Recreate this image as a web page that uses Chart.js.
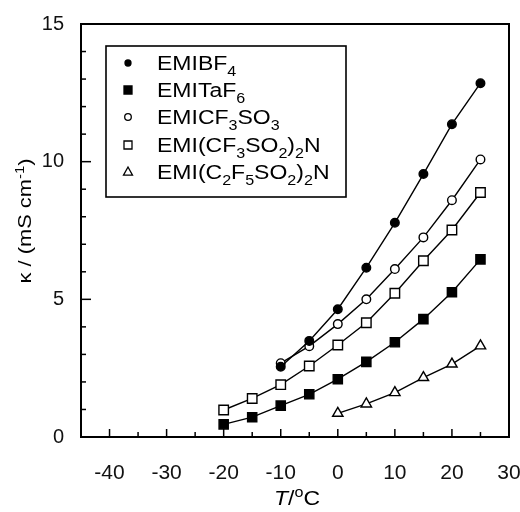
<!DOCTYPE html>
<html>
<head>
<meta charset="utf-8">
<script src="https://cdn.jsdelivr.net/npm/chart.js@4/dist/chart.umd.min.js"></script>
<style>
  html, body { margin: 0; padding: 0; background: #fff; }
  #c { display: block; }
</style>
</head>
<body>
<canvas id="c" width="520" height="512"></canvas>
<script>
// ---- data ----
const tempsBF4 = [-10, -5, 0, 5, 10, 15, 20, 25];
const valsBF4 = [2.55, 3.49, 4.64, 6.15, 7.78, 9.55, 11.36, 12.85];

const tempsTaF6 = [-20, -15, -10, -5, 0, 5, 10, 15, 20, 25];
const valsTaF6 = [0.46, 0.72, 1.14, 1.55, 2.10, 2.73, 3.44, 4.28, 5.26, 6.45];

const tempsCF3SO3 = [-10, -5, 0, 5, 10, 15, 20, 25];
const valsCF3SO3 = [2.68, 3.30, 4.10, 5.00, 6.10, 7.25, 8.60, 10.08];

const tempsTFSI = [-20, -15, -10, -5, 0, 5, 10, 15, 20, 25];
const valsTFSI = [0.98, 1.40, 1.90, 2.58, 3.34, 4.15, 5.22, 6.40, 7.52, 8.88];

const tempsBETI = [0, 5, 10, 15, 20, 25];
const valsBETI = [0.86, 1.20, 1.61, 2.16, 2.65, 3.31];

// legend labels; {n} marks a subscript
const seriesLabels = [
  'EMIBF{4}',
  'EMITaF{6}',
  'EMICF{3}SO{3}',
  'EMI(CF{3}SO{2}){2}N',
  'EMI(C{2}F{5}SO{2}){2}N'
];
const xTickLabels = [-40, -30, -20, -10, 0, 10, 20, 30];
const yTickLabels = [0, 5, 10, 15];
const yTitleParts = [['κ / (mS cm', 0], ['-1', 1], [')', 0]];
const xTitleParts = [['T', 'i'], ['/', 0], ['o', 1], ['C', 0]];

// ---- helpers ----
const FONT = '"Liberation Sans", Arial, Helvetica, sans-serif';
const STRETCH = 1.15;

function toPts(xs, ys) { return xs.map((x, i) => ({ x: x, y: ys[i] })); }

function parseLabel(s) {
  const parts = [];
  const re = /\{([^}]*)\}|([^{]+)/g;
  let m;
  while ((m = re.exec(s)) !== null) {
    if (m[1] !== undefined) parts.push([m[1], -1]);
    else parts.push([m[2], 0]);
  }
  return parts;
}

function partFont(kind, size) {
  if (kind === -1 || kind === 1) return Math.round(size * 0.68) + 'px ' + FONT;
  if (kind === 'i') return 'italic ' + size + 'px ' + FONT;
  return size + 'px ' + FONT;
}
function drawParts(ctx, parts, size) {
  let x = 0;
  for (const [t, kind] of parts) {
    let dy = 0;
    if (kind === -1) dy = size * 0.28;
    else if (kind === 1) dy = -size * 0.38;
    ctx.font = partFont(kind, size);
    ctx.fillText(t, x, dy);
    x += ctx.measureText(t).width;
  }
  return x;
}
function measureParts(ctx, parts, size) {
  let x = 0;
  for (const [t, kind] of parts) {
    ctx.font = partFont(kind, size);
    x += ctx.measureText(t).width;
  }
  return x;
}

function drawMarker(ctx, style, x, y, r, filled) {
  ctx.beginPath();
  if (style === 'circle') {
    ctx.arc(x, y, r, 0, Math.PI * 2);
  } else if (style === 'rect') {
    ctx.rect(x - r, y - r, 2 * r, 2 * r);
  } else if (style === 'triangle') {
    ctx.moveTo(x, y - r * 1.1);
    ctx.lineTo(x + r, y + r * 0.7);
    ctx.lineTo(x - r, y + r * 0.7);
    ctx.closePath();
  }
  ctx.fillStyle = filled ? '#000' : '#fff';
  ctx.fill();
  ctx.lineWidth = 1.3;
  ctx.strokeStyle = '#000';
  ctx.stroke();
}

const legendMarkers = [
  ['circle', 3, true],
  ['rect', 4, true],
  ['circle', 3.3, false],
  ['rect', 4, false],
  ['triangle', 4.5, false]
];

const decorPlugin = {
  id: 'decor',
  afterDraw(chart) {
    const ctx = chart.ctx;
    const a = chart.chartArea;
    const xs = chart.scales.x, ys = chart.scales.y;
    ctx.save();
    ctx.strokeStyle = '#000';
    // frame
    ctx.lineWidth = 2;
    ctx.strokeRect(a.left, a.top, a.right - a.left, a.bottom - a.top);
    // inward ticks
    ctx.lineWidth = 1.5;
    for (let v = -40; v < 30; v += 5) {
      const px = xs.getPixelForValue(v);
      const len = (v % 10 === 0) ? 8 : 5;
      ctx.beginPath();
      ctx.moveTo(px, a.bottom);
      ctx.lineTo(px, a.bottom - len);
      ctx.stroke();
    }
    for (let v = 1; v < 15; v += 1) {
      const py = ys.getPixelForValue(v);
      const len = (v % 5 === 0) ? 10 : 5;
      ctx.beginPath();
      ctx.moveTo(a.left, py);
      ctx.lineTo(a.left + len, py);
      ctx.stroke();
    }

    // legend box
    ctx.lineWidth = 1.6;
    ctx.strokeRect(106, 46, 240, 151);
    const rows = [63, 90, 117, 145, 172];
    ctx.fillStyle = '#000';
    seriesLabels.forEach((lab, i) => {
      const [st, r, filled] = legendMarkers[i];
      drawMarker(ctx, st, 128, rows[i], r, filled);
      ctx.save();
      ctx.translate(157, rows[i] + 7);
      ctx.scale(STRETCH, 1);
      ctx.fillStyle = '#000';
      ctx.textBaseline = 'alphabetic';
      ctx.textAlign = 'left';
      drawParts(ctx, parseLabel(lab), 20);
      ctx.restore();
    });

    // y title (rotated)
    ctx.save();
    ctx.fillStyle = '#000';
    ctx.textBaseline = 'alphabetic';
    ctx.textAlign = 'left';
    const wy = measureParts(ctx, yTitleParts, 19) * STRETCH;
    ctx.translate(31, 221);
    ctx.rotate(-Math.PI / 2);
    ctx.translate(-wy / 2, 0);
    ctx.scale(STRETCH, 1);
    drawParts(ctx, yTitleParts, 19);
    ctx.restore();

    // x title
    ctx.save();
    ctx.fillStyle = '#000';
    ctx.textBaseline = 'alphabetic';
    ctx.textAlign = 'left';
    const wx = measureParts(ctx, xTitleParts, 20) * STRETCH;
    ctx.translate(297 - wx / 2, 505);
    ctx.scale(STRETCH, 1);
    drawParts(ctx, xTitleParts, 20);
    ctx.restore();

    ctx.restore();
  }
};

function ds(label, xs, ys, style, radius, filled) {
  return {
    label: label,
    data: toPts(xs, ys),
    showLine: true,
    borderColor: '#000',
    borderWidth: 1.4,
    pointStyle: style,
    pointRadius: radius,
    pointHoverRadius: radius,
    pointBackgroundColor: filled ? '#000' : '#fff',
    pointBorderColor: '#000',
    pointBorderWidth: 1.4,
    tension: 0,
    fill: false,
    clip: false
  };
}

new Chart(document.getElementById('c'), {
  type: 'scatter',
  data: {
    datasets: [
      ds(seriesLabels[0], tempsBF4, valsBF4, 'circle', 4.3, true),
      ds(seriesLabels[1], tempsTaF6, valsTaF6, 'rect', 6.5, true),
      ds(seriesLabels[2], tempsCF3SO3, valsCF3SO3, 'circle', 4.3, false),
      ds(seriesLabels[3], tempsTFSI, valsTFSI, 'rect', 6.7, false),
      ds(seriesLabels[4], tempsBETI, valsBETI, 'triangle', 6, false)
    ]
  },
  options: {
    responsive: false,
    animation: false,
    devicePixelRatio: 1,
    layout: { padding: { top: 24, right: 11, left: 0, bottom: 0 } },
    plugins: { legend: { display: false }, tooltip: { enabled: false } },
    scales: {
      x: {
        type: 'linear',
        min: -45, max: 30,
        grid: { display: false, drawTicks: false },
        border: { display: false },
        afterFit(s) { s.height = 75; s.paddingLeft = 0; s.paddingRight = 0; },
        afterBuildTicks(s) { s.ticks = xTickLabels.map(v => ({ value: v })); },
        ticks: {
          autoSkip: false, maxRotation: 0, padding: 24,
          color: '#111',
          font: { family: FONT, size: 21 },
          callback: v => String(v)
        }
      },
      y: {
        type: 'linear',
        min: 0, max: 15,
        grid: { display: false, drawTicks: false },
        border: { display: false },
        afterFit(s) { s.width = 81; s.paddingTop = 0; s.paddingBottom = 0; },
        afterBuildTicks(s) { s.ticks = yTickLabels.map(v => ({ value: v })); },
        ticks: {
          autoSkip: false, padding: 17,
          color: '#111',
          font: { family: FONT, size: 20 },
          callback: v => String(v)
        }
      }
    }
  },
  plugins: [decorPlugin]
});
</script>
</body>
</html>
